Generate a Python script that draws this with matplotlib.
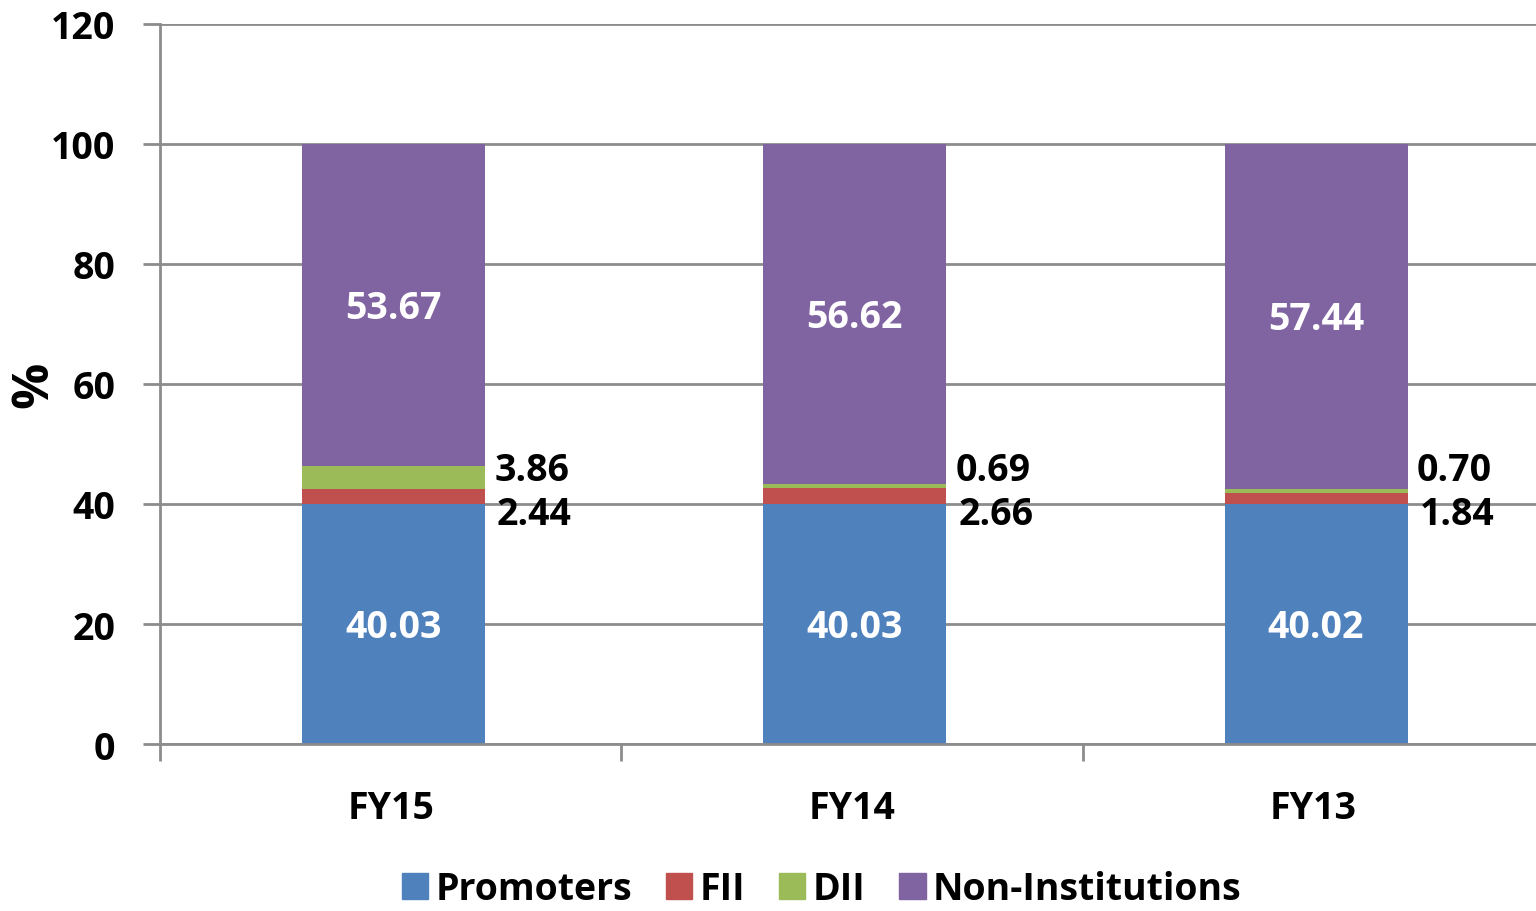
import numpy as np
import matplotlib
matplotlib.use("Agg")
import matplotlib.pyplot as plt
from matplotlib.patches import Patch

plt.rcParams["font.family"] = ["Open Sans", "DejaVu Sans"]
plt.rcParams["font.weight"] = "bold"

years = ["FY15", "FY14", "FY13"]
promoters = [40.03, 40.03, 40.02]
fii = [2.44, 2.66, 1.84]
dii = [3.86, 0.69, 0.70]
non_inst = [53.67, 56.62, 57.44]

C_PRO = "#4F81BD"; C_FII = "#C0504D"; C_DII = "#9BBB59"; C_NON = "#8064A2"
GRID = "#8c8c8c"
FS = 27

fig = plt.figure(figsize=(15.36, 9.12), dpi=100)
ax = fig.add_axes([160 / 1536, 0.183, 1384 / 1536, 0.79])

x = np.arange(len(years))
w = 0.397
p = np.array(promoters); f = np.array(fii); d = np.array(dii); n = np.array(non_inst)
ax.bar(x + 0.006, p, w, color=C_PRO, zorder=2)
ax.bar(x + 0.006, f, w, bottom=p, color=C_FII, zorder=2)
ax.bar(x + 0.006, d, w, bottom=p + f, color=C_DII, zorder=2)
ax.bar(x + 0.006, n, w, bottom=p + f + d, color=C_NON, zorder=2)

for i in range(len(years)):
    ax.text(x[i] + 0.006, p[i] / 2 - 0.5, f"{p[i]:.2f}", color="white", ha="center", va="center", fontsize=FS, fontweight="bold", zorder=3)
    ax.text(x[i] + 0.006, p[i] + f[i] + d[i] + n[i] / 2 - 0.5, f"{n[i]:.2f}", color="white", ha="center", va="center", fontsize=FS, fontweight="bold", zorder=3)
    ax.text(x[i] + w / 2 + 0.026, 45.7, f"{d[i]:.2f}", color="black", ha="left", va="center", fontsize=FS, fontweight="bold", zorder=3)
    ax.text(x[i] + w / 2 + 0.032, 38.4, f"{f[i]:.2f}", color="black", ha="left", va="center", fontsize=FS, fontweight="bold", zorder=3)

ax.set_xlim(-0.5, 2.5)
ax.set_ylim(0, 120)
ax.set_yticks(range(0, 121, 20))
ax.yaxis.grid(True, color=GRID, lw=2, zorder=0)
ax.set_axisbelow(True)
for s in ["top", "right"]:
    ax.spines[s].set_visible(False)
for s in ["left", "bottom"]:
    ax.spines[s].set_color(GRID)
    ax.spines[s].set_linewidth(2)

ax.set_xticks([-0.5, 0.5, 1.5, 2.5])
ax.set_xticklabels([])
ax.set_xticks(x, minor=True)
ax.set_xticklabels(years, minor=True)
ax.tick_params(axis="x", which="major", direction="out", length=12, width=2, color=GRID)
ax.tick_params(axis="x", which="minor", length=0, pad=32, labelsize=FS)
ax.tick_params(axis="y", direction="out", length=12, width=2, color=GRID, labelsize=FS, pad=20)
for lab in ax.get_yticklabels() + ax.get_xticklabels(minor=True):
    lab.set_fontweight("bold")

fig.text(34 / 1536, 1 - 385 / 912, "%", rotation=90, ha="center", va="center", fontsize=37, fontweight="bold")

handles = [Patch(color=C_PRO, label="Promoters"), Patch(color=C_FII, label="FII"),
           Patch(color=C_DII, label="DII"), Patch(color=C_NON, label="Non-Institutions")]
fig.legend(handles=handles, loc="lower center", bbox_to_anchor=(0.535, -0.034), ncol=4, frameon=False,
           prop={"size": FS, "weight": "bold"}, handlelength=0.7, handleheight=0.7,
           handletextpad=0.2, columnspacing=0.9)

fig.savefig("out.png", dpi=100)
